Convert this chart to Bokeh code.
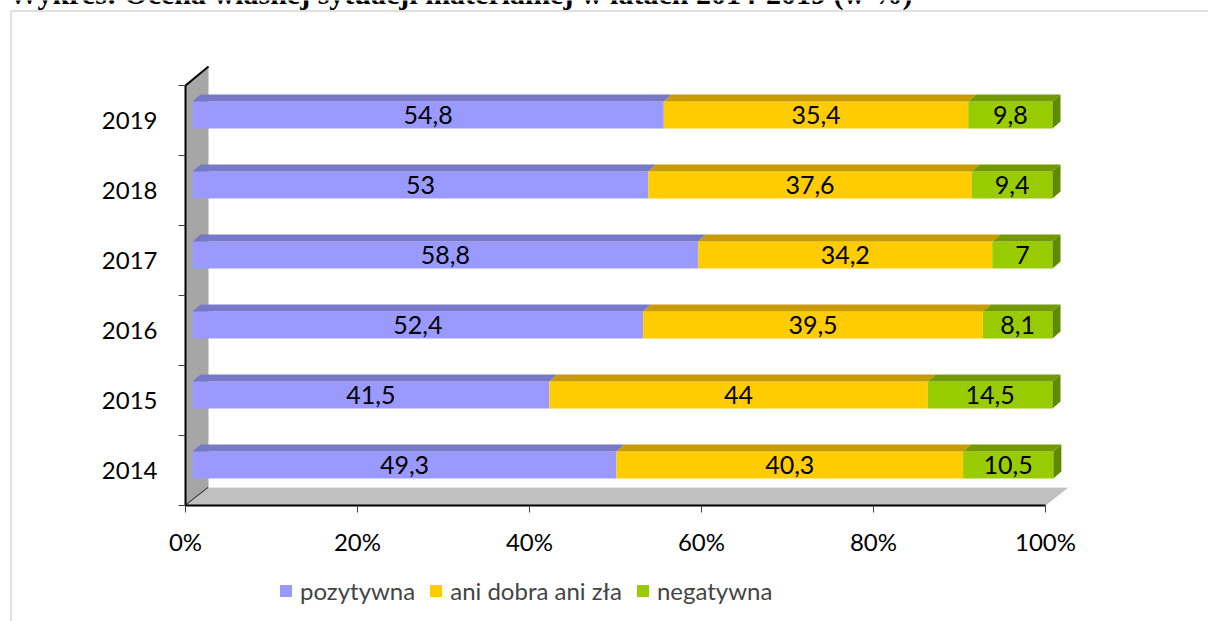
from bokeh.plotting import figure
from bokeh.models import (Range1d, FixedTicker, Label, Legend, LegendItem,
                          BoxAnnotation, ColumnDataSource)
from bokeh.embed import file_html
from bokeh.resources import INLINE
from bokeh.core.properties import value

# ---------------- data ----------------
years = ["2014", "2015", "2016", "2017", "2018", "2019"]
pozytywna = [49.3, 41.5, 52.4, 58.8, 53.0, 54.8]
ani_dobra_ani_zla = [40.3, 44.0, 39.5, 34.2, 37.6, 35.4]
negatywna = [10.5, 14.5, 8.1, 7.0, 9.4, 9.8]
series_names = ["pozytywna", "ani dobra ani zła", "negatywna"]
x_ticks = [0, 20, 40, 60, 80, 100]
x_tick_labels = ["0%", "20%", "40%", "60%", "80%", "100%"]
title_text = "Wykres: Ocena własnej sytuacji materialnej w latach 2014-2019 (w %)"

# ---------------- style / geometry ----------------
W, H = 1208, 621
LEFT_PX = 185          # pixel of 0 %
BOTTOM_PX = 505        # pixel of floor front edge
PX_PER_PCT = 8.6
PX_PER_CAT = 70.0
FONT = "Lato"

front_colors = ["#9999FF", "#FFCC00", "#99CC00"]
top_colors = ["#7878C8", "#C89B00", "#739A00"]
side_color = "#5F8A00"


def dx(px):
    return px / PX_PER_PCT


def dy(px):
    return px / PX_PER_CAT


def px_x(px):
    return (px - LEFT_PX) / PX_PER_PCT


def px_y(py):
    return (BOTTOM_PX - py) / PX_PER_CAT - 0.5


p = figure(width=W, height=H, x_range=Range1d(px_x(0), px_x(W)),
           y_range=Range1d(px_y(H), px_y(0)),
           output_backend="svg", toolbar_location=None,
           min_border_left=0, min_border_bottom=0, min_border_top=0, min_border_right=0)
p.title.visible = False
p.outline_line_color = None
p.xgrid.visible = False
p.ygrid.visible = False
p.background_fill_color = "white"
p.border_fill_color = "white"

# ---------------- axes ----------------
n = len(years)
xa = p.xaxis[0]
xa.fixed_location = -0.5
xa.ticker = FixedTicker(ticks=x_ticks)
xa.major_label_overrides = {t: l for t, l in zip(x_ticks, x_tick_labels)}
xa.bounds = (0, 100)
xa.axis_line_color = "black"
xa.axis_line_width = 2
xa.major_tick_out = 7
xa.major_tick_in = 0
xa.major_tick_line_color = "#404040"
xa.minor_tick_line_color = None
xa.major_label_standoff = 14
xa.major_label_text_font = FONT
xa.major_label_text_font_size = "24px"
xa.major_label_text_color = "black"

ya = p.yaxis[0]
ya.fixed_location = 0
ya.ticker = FixedTicker(ticks=list(range(n)), minor_ticks=[i - 0.5 for i in range(n + 1)])
ya.major_label_overrides = {i: y for i, y in enumerate(years)}
ya.bounds = (-0.5, n - 0.5)
ya.axis_line_color = "black"
ya.axis_line_width = 2
ya.major_tick_out = 0
ya.major_tick_in = 0
ya.minor_tick_out = 7
ya.minor_tick_in = 0
ya.minor_tick_line_color = "#404040"
ya.major_label_standoff = 21
ya.major_label_text_font = FONT
ya.major_label_text_font_size = "24px"
ya.major_label_text_color = "black"

# ---------------- 3D wall and floor ----------------
DEPTH_X, DEPTH_Y = 23, 18
p.patch([0, dx(DEPTH_X), dx(DEPTH_X), 0],
        [-0.5, -0.5 + dy(DEPTH_Y), n - 0.5 + dy(DEPTH_Y + 1), n - 0.5],
        fill_color="#A6A6A6", line_color=None)
p.line([0, dx(DEPTH_X)], [n - 0.5, n - 0.5 + dy(DEPTH_Y + 1)], line_color="black", line_width=2)
p.line([0, dx(DEPTH_X)], [-0.5, -0.5 + dy(DEPTH_Y)], line_color="black", line_width=1.5)
p.patch([0, 100, 100 + dx(DEPTH_X), dx(DEPTH_X)],
        [-0.5, -0.5, -0.5 + dy(DEPTH_Y), -0.5 + dy(DEPTH_Y)],
        fill_color="#C0C0C0", line_color=None)
p.line([dx(DEPTH_X), 100 + dx(DEPTH_X)], [-0.5 + dy(DEPTH_Y), -0.5 + dy(DEPTH_Y)],
       line_color="#E8E8E8", line_width=1)

# ---------------- bars ----------------
OFF_X = dx(7)
BAR_C = 0.08
BAR_H = dy(13.5)
TOP_DX, TOP_DY = dx(8), dy(7)

series = [pozytywna, ani_dobra_ani_zla, negatywna]
cum = [0.0] * n
legend_items = []
for j, vals in enumerate(series):
    lefts = [cum[i] + OFF_X for i in range(n)]
    rights = [cum[i] + vals[i] + OFF_X for i in range(n)]
    cy = [i + BAR_C for i in range(n)]
    src = ColumnDataSource(dict(
        left=lefts, right=rights, bottom=[c - BAR_H for c in cy], top=[c + BAR_H for c in cy],
        xs=[[l, r, r + TOP_DX, l + TOP_DX] for l, r in zip(lefts, rights)],
        ys=[[c + BAR_H, c + BAR_H, c + BAR_H + TOP_DY, c + BAR_H + TOP_DY] for c in cy],
        lx=[(l + r) / 2 for l, r in zip(lefts, rights)], ly=cy,
        label=[("%g" % v).replace(".", ",") for v in vals],
    ))
    r_front = p.quad(left="left", right="right", bottom="bottom", top="top", source=src,
                     fill_color=front_colors[j], line_color=None)
    p.patches(xs="xs", ys="ys", source=src, fill_color=top_colors[j], line_color=None)
    if j == len(series) - 1:
        p.patches(xs=[[r, r + TOP_DX, r + TOP_DX, r] for r in rights],
                  ys=[[c + BAR_H, c + BAR_H + TOP_DY, c - BAR_H + TOP_DY, c - BAR_H] for c in cy],
                  fill_color=side_color, line_color=None)
    p.text(x="lx", y="ly", text="label", source=src, text_align="center",
           text_baseline="middle", text_font=value(FONT), text_font_size="25px",
           text_color="black")
    legend_items.append(LegendItem(label=series_names[j], renderers=[r_front]))
    cum = [cum[i] + vals[i] for i in range(n)]

legend = Legend(items=legend_items, orientation="horizontal", location=(278, 16),
                glyph_width=15, glyph_height=15, label_standoff=7, spacing=13,
                padding=0, margin=0, border_line_color=None, background_fill_alpha=0,
                label_text_font=FONT, label_text_font_size="24px", label_height=15)
p.add_layout(legend)

# ---------------- frame border and title ----------------
p.add_layout(BoxAnnotation(left=px_x(10.5), right=px_x(1400), top=px_y(10.5), bottom=px_y(900),
                           fill_alpha=0, fill_color=None, line_color="#333333", line_width=1))
p.add_layout(Label(x=px_x(8), y=px_y(-7), text=title_text, text_font="Liberation Serif",
                   text_font_style="bold", text_font_size="30px", text_baseline="alphabetic",
                   text_align="left", text_color="black"))

open("out.html", "w").write(file_html(p, INLINE))
